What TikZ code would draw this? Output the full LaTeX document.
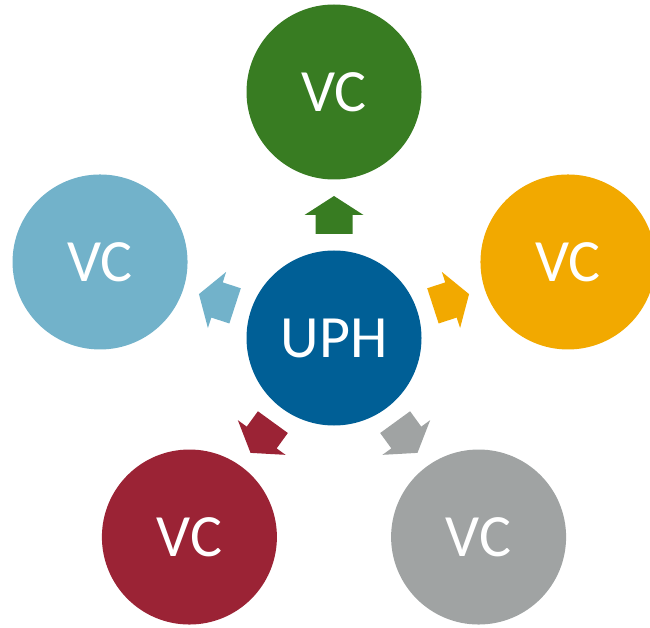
\documentclass[tikz,border=0pt]{standalone}
\usepackage{fontspec}
\setmainfont{Carlito}
\usetikzlibrary{calc}
\definecolor{cgreen}{RGB}{56,124,34}
\definecolor{cblue}{RGB}{0,95,150}
\definecolor{clblue}{RGB}{114,178,202}
\definecolor{corange}{RGB}{242,169,0}
\definecolor{cred}{RGB}{155,35,53}
\definecolor{cgray}{RGB}{160,163,163}
\tikzset{
  bubble/.style={circle, minimum size=175pt, inner sep=0pt, text=white,
    font=\fontsize{60}{60}\selectfont},
  blockarrow/.pic={\fill (104,-18.5) -- (123,-18.5) -- (123,-29.5) -- (142,0)
      -- (123,29.5) -- (123,18.5) -- (104,18.5) -- cycle;}
}
\begin{document}
\begin{tikzpicture}[x=1pt,y=1pt]
\clip (0,0) rectangle (650,627);
\useasboundingbox (0,0) rectangle (650,627);
\node[bubble, fill=cblue] (uph) at (334,289) {UPH};
\node[bubble, fill=cgreen]  (vc1) at ($(uph.center)+(90:246)$) {VC};
\node[bubble, fill=clblue]  (vc2) at ($(uph.center)+(162:246)$) {VC};
\node[bubble, fill=corange] (vc3) at ($(uph.center)+(18:246)$) {VC};
\node[bubble, fill=cred]    (vc4) at ($(uph.center)+(234:246)$) {VC};
\node[bubble, fill=cgray]   (vc5) at ($(uph.center)+(306:246)$) {VC};
\pic[fill=cgreen, rotate=90]   at (uph.center) {blockarrow};
\pic[fill=clblue, rotate=162]  at (uph.center) {blockarrow};
\pic[fill=corange, rotate=18]  at (uph.center) {blockarrow};
\pic[fill=cred, rotate=234]    at (uph.center) {blockarrow};
\pic[fill=cgray, rotate=306]   at (uph.center) {blockarrow};
\end{tikzpicture}
\end{document}
